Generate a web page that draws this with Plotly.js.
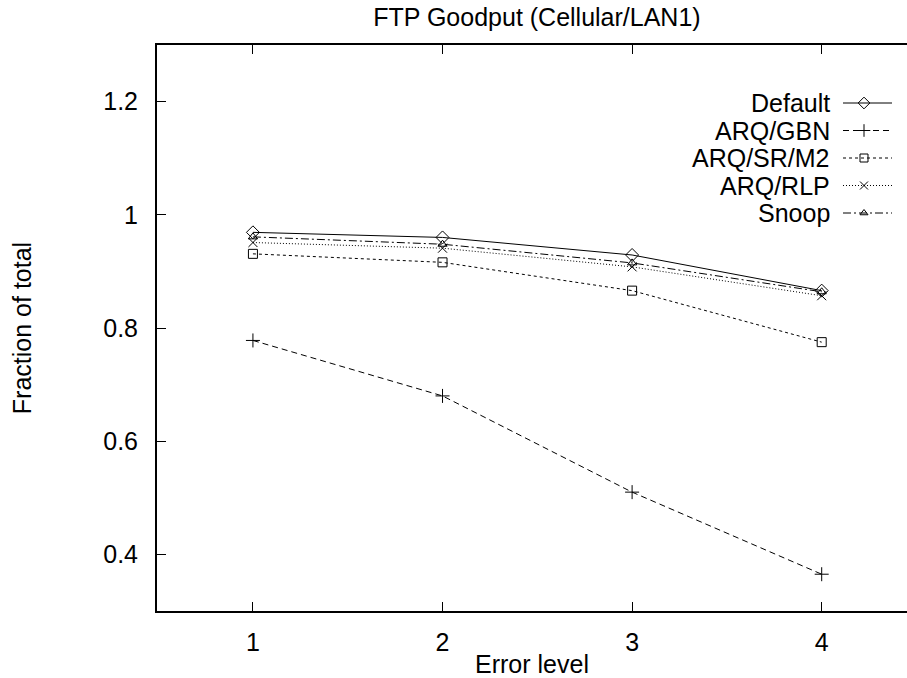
<!DOCTYPE html>
<html>
<head>
<meta charset="utf-8">
<script src="https://cdn.plot.ly/plotly-3.0.1.min.js"></script>
<style>html,body{margin:0;padding:0;background:#fff;}#chart{width:907px;height:678px;}</style>
</head>
<body>
<div id="chart"></div>
<script>
const errorLevels = [1, 2, 3, 4];
const seriesNames = ["Default", "ARQ/GBN", "ARQ/SR/M2", "ARQ/RLP", "Snoop"];
const defaultVals = [0.969, 0.960, 0.929, 0.866];
const gbnVals = [0.778, 0.680, 0.510, 0.365];
const srm2Vals = [0.931, 0.916, 0.866, 0.775];
const rlpVals = [0.951, 0.941, 0.908, 0.857];
const snoopVals = [0.961, 0.948, 0.915, 0.864];
const yTickVals = [0.4, 0.6, 0.8, 1.0, 1.2];
const yTickText = ["0.4", "0.6", "0.8", "1", "1.2"];

const allVals = [defaultVals, gbnVals, srm2Vals, rlpVals, snoopVals];
const dashes = ["solid", "6px,4px", "3px,3px", "1px,2px", "8px,3px,2px,3px"];
const symbols = ["diamond-open", "cross-thin-open", "square-open", "x-thin-open", "triangle-up-open"];
const sizes = [10, 10, 9, 9, 8];

// Layout of the hand-drawn key (gnuplot style: text left, sample right), in pixels of the page
const W = 907, H = 678, ML = 157, MT = 45, MB = 67;
const keyTop = 103, keyStep = 27.5, keyTextRight = 832, keyLineL = 843, keyLineR = 892, keyMark = 864;

const traces = seriesNames.map((n, i) => ({
  x: errorLevels, y: allVals[i], name: n, type: "scatter", mode: "lines+markers", showlegend: false,
  line: {color: "#000", width: 1, dash: dashes[i]},
  marker: {symbol: symbols[i], size: sizes[i], color: "#000", line: {color: "#000", width: 1}}
}));

// key samples on an overlay axis measured in page pixels
seriesNames.forEach((n, i) => {
  const ky = keyTop + i * keyStep;
  traces.push({x: [keyLineL, keyLineR], y: [ky, ky], xaxis: "x2", yaxis: "y2", mode: "lines", showlegend: false,
    line: {color: "#000", width: 1, dash: dashes[i]}, hoverinfo: "skip"});
  traces.push({x: [keyMark], y: [ky], xaxis: "x2", yaxis: "y2", mode: "markers", showlegend: false,
    marker: {symbol: symbols[i], size: sizes[i] - 1, color: "#000", line: {color: "#000", width: 1}}, hoverinfo: "skip"});
});

const fam = "Liberation Sans, Arial, sans-serif";
const fs = 25;
const annotations = seriesNames.map((n, i) => ({
  text: n, xref: "paper", yref: "paper",
  x: (keyTextRight - ML) / (W - ML), y: (H - MB - (keyTop + i * keyStep)) / (H - MT - MB),
  xanchor: "right", yanchor: "middle", showarrow: false, font: {size: fs, color: "#000", family: fam}
}));

const layout = {
  width: W, height: H,
  margin: {l: ML, r: 0, t: MT, b: MB},
  paper_bgcolor: "#fff", plot_bgcolor: "#fff",
  font: {family: fam, color: "#000", size: fs},
  title: {text: "FTP Goodput (Cellular/LAN1)", font: {size: fs, color: "#000", family: fam}, x: 0.592, xanchor: "center", y: 0.988, yanchor: "top"},
  xaxis: {range: [0.494, 4.45], tickvals: errorLevels, ticks: "inside", ticklen: 9, tickcolor: "#000",
          showline: true, linecolor: "#000", linewidth: 2, mirror: "ticks", showgrid: false, zeroline: false,
          ticklabelstandoff: 8,
          tickfont: {size: fs}, title: {text: "Error level", font: {size: fs}, standoff: 0}},
  yaxis: {range: [0.3, 1.3], tickvals: yTickVals, ticktext: yTickText, ticks: "inside", ticklen: 9, tickcolor: "#000",
          showline: true, linecolor: "#000", linewidth: 2, showgrid: false, zeroline: false,
          ticklabelstandoff: 12,
          tickfont: {size: fs}, title: {text: "Fraction of total", font: {size: fs}, standoff: 64}},
  xaxis2: {overlaying: "x", range: [ML, W], visible: false, fixedrange: true},
  yaxis2: {overlaying: "y", range: [H - MB, MT], visible: false, fixedrange: true},
  showlegend: false,
  annotations: annotations
};
Plotly.newPlot("chart", traces, layout, {displayModeBar: false, staticPlot: true});
</script>
</body>
</html>
